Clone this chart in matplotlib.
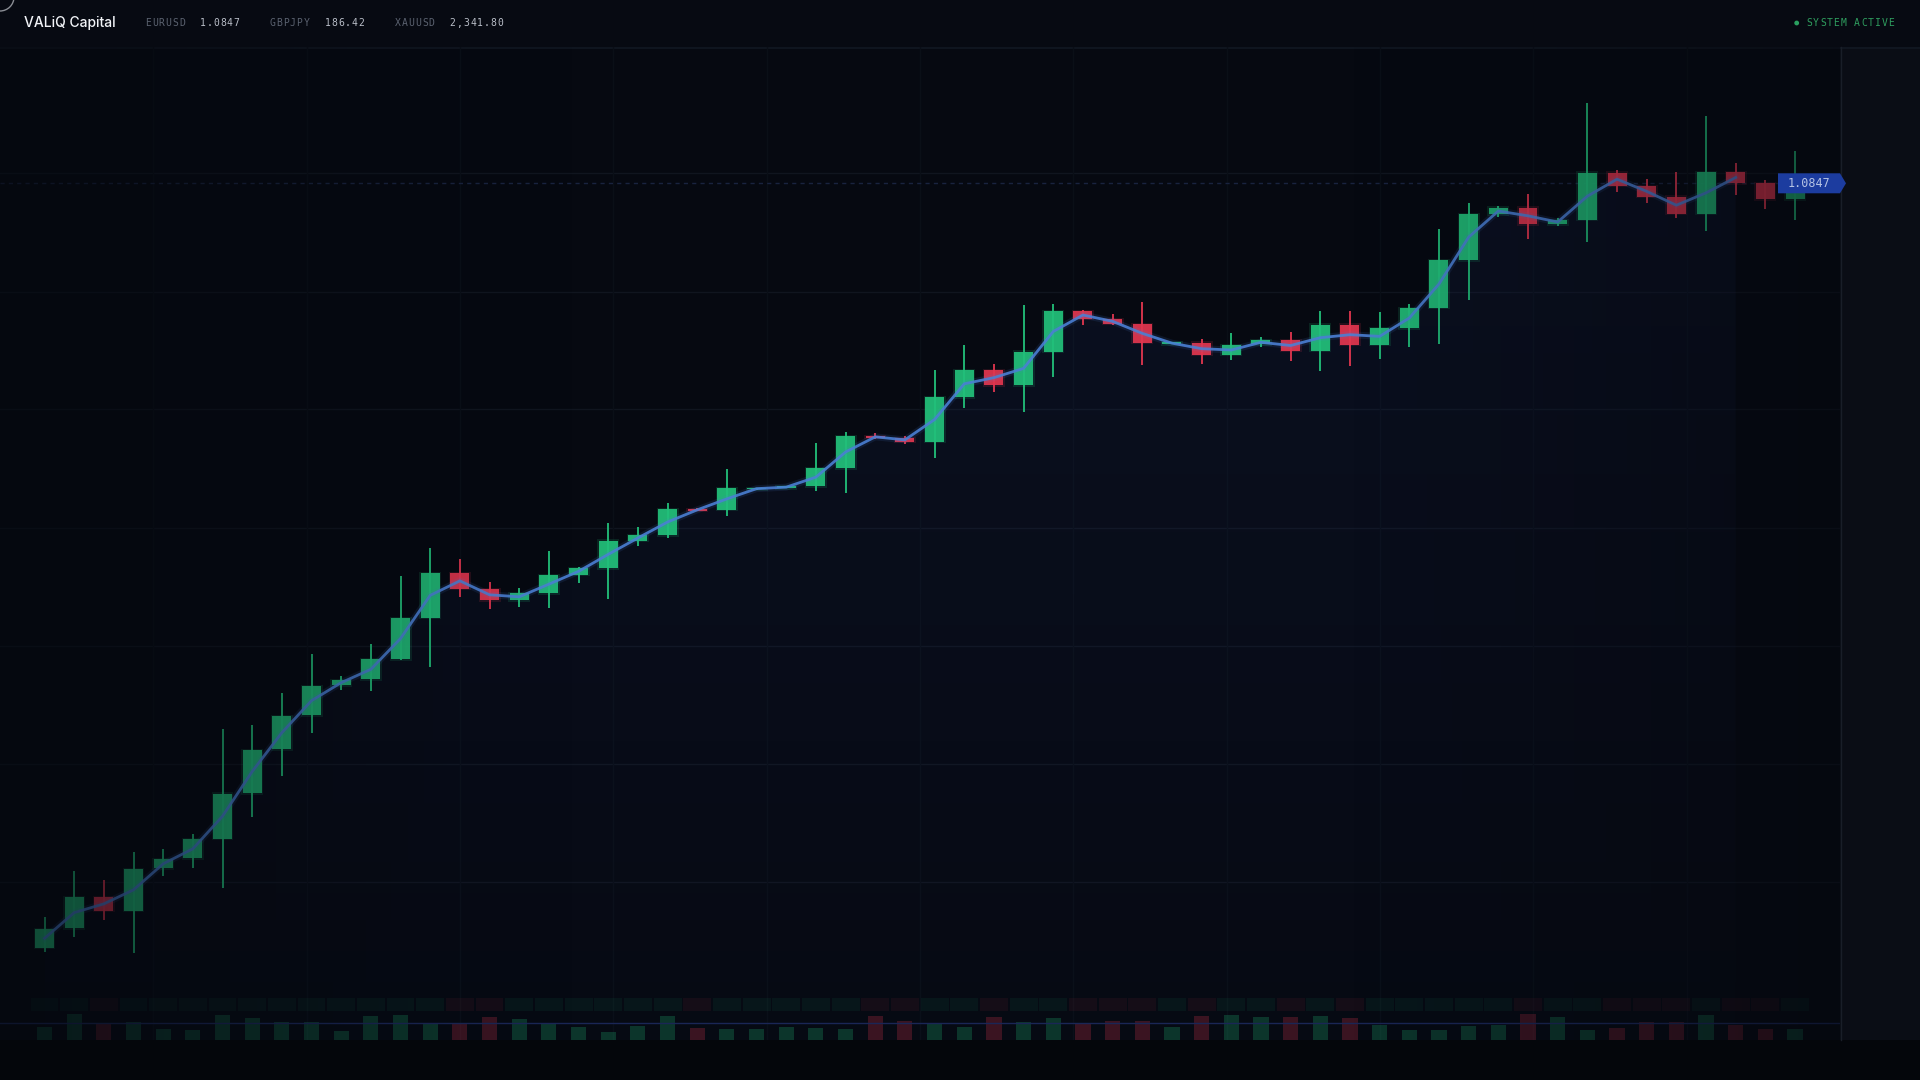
import numpy as np
import matplotlib.pyplot as plt
from matplotlib.patches import Rectangle, Polygon, Circle
from matplotlib.colors import to_rgb

# ---- data ----
opens = [1.00826, 1.0102, 1.01333, 1.01196, 1.0162, 1.0172, 1.01916, 1.02373, 1.0281, 1.0315,
         1.0345, 1.0351, 1.03713, 1.04126, 1.04573, 1.0441, 1.0430, 1.0437, 1.04556, 1.04623,
         1.04896, 1.04953, 1.05213, 1.05206, 1.0541, 1.05423, 1.05443, 1.05623, 1.05943, 1.05923,
         1.05886, 1.0633, 1.0660, 1.06453, 1.06786, 1.0719, 1.07113, 1.07063, 1.06863, 1.06876,
         1.06756, 1.0686, 1.0690, 1.06796, 1.07056, 1.06856, 1.07023, 1.07226, 1.07703, 1.0816,
         1.08226, 1.08063, 1.08106, 1.08576, 1.08443, 1.08336, 1.08166, 1.08583, 1.0847, 1.0831]
closes = [1.01013, 1.01333, 1.01196, 1.01613, 1.0171, 1.0191, 1.02366, 1.02803, 1.03143, 1.03443,
          1.03503, 1.0371, 1.04123, 1.04573, 1.04416, 1.0430, 1.0437, 1.04553, 1.04623, 1.04896,
          1.0495, 1.05213, 1.05196, 1.05423, 1.05423, 1.0544, 1.0562, 1.05943, 1.05926, 1.05886,
          1.0633, 1.0660, 1.06453, 1.06786, 1.0719, 1.07116, 1.07066, 1.06876, 1.0688, 1.06756,
          1.0685, 1.0690, 1.06796, 1.07056, 1.06856, 1.07023, 1.07223, 1.0770, 1.0816, 1.08226,
          1.08063, 1.08103, 1.08576, 1.08446, 1.08336, 1.08166, 1.08583, 1.08473, 1.08313, 1.0847]
highs = [1.0113, 1.01593, 1.01503, 1.0178, 1.01813, 1.01963, 1.0301, 1.03053, 1.0337, 1.03763,
         1.03543, 1.0386, 1.04543, 1.04823, 1.04713, 1.04483, 1.0442, 1.04793, 1.04636, 1.0507,
         1.05036, 1.0527, 1.0522, 1.0561, 1.05428, 1.05443, 1.0587, 1.05983, 1.0597, 1.05946,
         1.0660, 1.06853, 1.06663, 1.07253, 1.07266, 1.07203, 1.07163, 1.0728, 1.06883, 1.0691,
         1.06973, 1.0693, 1.0698, 1.07196, 1.07193, 1.0718, 1.0726, 1.08013, 1.0827, 1.08246,
         1.0836, 1.0812, 1.09276, 1.08603, 1.0851, 1.08586, 1.09143, 1.0867, 1.08503, 1.08793]
lows = [1.00786, 1.00936, 1.01103, 1.00776, 1.01546, 1.0162, 1.01426, 1.02136, 1.02543, 1.02973,
        1.03403, 1.0339, 1.03703, 1.03636, 1.04336, 1.0421, 1.04236, 1.0422, 1.04476, 1.0431,
        1.04843, 1.04926, 1.05191, 1.05146, 1.05405, 1.0542, 1.05393, 1.05376, 1.05916, 1.05866,
        1.05726, 1.06228, 1.06386, 1.0618, 1.0653, 1.07056, 1.07058, 1.06656, 1.0686, 1.0666,
        1.06706, 1.06836, 1.06693, 1.06596, 1.06646, 1.06713, 1.06836, 1.06863, 1.07303, 1.0813,
        1.07916, 1.08046, 1.07883, 1.0838, 1.0827, 1.08126, 1.0799, 1.08356, 1.08216, 1.08103]
volumes = [1300, 2570, 1600, 1770, 1130, 1000, 2500, 2230, 1770, 1830,
           900, 2430, 2470, 1700, 1730, 2300, 2130, 1700, 1300, 830,
           1370, 2400, 1200, 1100, 1070, 1330, 1200, 1100, 2400, 1900,
           1630, 1330, 2300, 1800, 2230, 1630, 1870, 1870, 1330, 2400,
           2500, 2330, 2270, 2400, 2200, 1530, 1000, 1000, 1400, 1530,
           2570, 2270, 1000, 1200, 1800, 1770, 2470, 1500, 1100, 1100]
grid_levels = [1.0857, 1.07388, 1.0621, 1.05026, 1.03843, 1.02663, 1.01483]
line_last = 57  # trend line stops two bars before the end

tickers = ["EURUSD", "GBPJPY", "XAUUSD"]
quotes = ["1.0847", "186.42", "2,341.80"]
ticker_x = [144.6, 268.6, 394]
quote_x = [199, 324, 449]

GREEN = "#22c07a"
RED = "#e2364f"
BLUE = "#4a7fd4"
BG = "#060911"
MONO = "DejaVu Sans Mono"

W, H = 1920, 1080
fig = plt.figure(figsize=(19.2, 10.8), dpi=100, facecolor=BG)


def frame(x0, y0, x1, y1, **kw):
    # axes placed by pixel box, origin top-left
    a = fig.add_axes([x0 / W, 1 - y1 / H, (x1 - x0) / W, (y1 - y0) / H], **kw)
    a.axis("off")
    return a


# background panels
bg = frame(0, 0, W, H, zorder=-5)
bg.set_xlim(0, W); bg.set_ylim(H, 0)
bg.add_patch(Rectangle((0, 0), W, 47, color="#070a12", lw=0))
bg.add_patch(Rectangle((0, 47), 1840, 993, color=BG, lw=0))
bg.add_patch(Rectangle((1840, 47), 80, 993, color="#0a0d15", lw=0))
bg.add_patch(Rectangle((0, 1040), W, 40, color="#04060b", lw=0))
bg.plot([0, W], [47.5, 47.5], color="#121823", lw=1.2)
bg.plot([1840.5, 1840.5], [47, 1040], color="#191e28", lw=1)

o = np.array(opens); c = np.array(closes)
hi = np.array(highs); lo = np.array(lows)
n = len(o)
x = np.arange(n)
up = c >= o
cols = np.where(up, GREEN, RED)

step, first_px = 29.67, 44.5
xlim = (-first_px / step, (1840 - first_px) / step)
last = c[-1]
label_y = 183.3
ppu = 10000  # pixels per price unit

ax = frame(0, 47, 1840, 1040, zorder=1)
ax.set_xlim(*xlim)
ylim = (last - (1040 - label_y) / ppu, last + (label_y - 47) / ppu)

# grid
for g in grid_levels:
    ax.axhline(g, color="#10151f", lw=1, zorder=0)
for k in range(1, 12):
    ax.axvline((1840 * k / 12 - first_px) / step, color="#0a0f17", lw=1, zorder=0)

# gradient area under the trend line
mid = (o + c) / 2
xs = x[:line_last + 1]; ys = mid[:line_last + 1]
verts = [(xs[0], ylim[0])] + list(zip(xs, ys)) + [(xs[-1], ylim[0])]
poly = Polygon(verts, closed=True, facecolor="none", edgecolor="none")
ax.add_patch(poly)
grad = np.zeros((256, 1, 4))
grad[..., :3] = to_rgb("#2a3f8a")
grad[:, 0, 3] = np.linspace(0.15, 0.02, 256)
im = ax.imshow(grad, extent=[xs[0], xs[-1], ylim[0], ylim[1]], aspect="auto",
               origin="upper", zorder=1)
im.set_clip_path(poly)

# current price dotted line
ax.axhline(last, xmax=1778 / 1840, color="#19233f", lw=1, ls=(0, (3, 3)), zorder=2)

# candles
ax.vlines(x, lo, hi, colors=cols, lw=1.3, zorder=3)
ax.bar(x, np.abs(c - o) + 3 / ppu, bottom=np.minimum(o, c) - 1.5 / ppu, width=0.74,
       color=cols, alpha=0.15, lw=0, zorder=3)
ax.bar(x, np.abs(c - o), bottom=np.minimum(o, c), width=0.64, color=cols, lw=0,
       alpha=0.92, zorder=4)

# trend line
ax.plot(xs, ys, color=BLUE, lw=5, alpha=0.12, zorder=5, solid_joinstyle="round")
ax.plot(xs, ys, color=BLUE, lw=2.0, alpha=0.9, zorder=5, solid_joinstyle="round")
ax.set_xlim(*xlim); ax.set_ylim(*ylim)

# volume strip
vax = frame(0, 990, 1840, 1040, zorder=1)
vax.set_xlim(*xlim); vax.set_ylim(0, 5000)
vax.bar(x, 1240, bottom=2930, width=0.94, color=cols, alpha=0.07, lw=0)
vax.bar(x, volumes, width=0.51, color=cols, alpha=0.24, lw=0)
vax.axhline(np.mean(volumes), color="#1a2656", lw=1)

# edge fade over chart area
fade = frame(0, 47, 1840, 1040, zorder=5)
px = np.arange(1840)
t = np.clip(px / 600, 0, 1)
a_left = 0.6 * (1 - (3 * t ** 2 - 2 * t ** 3))
a_right = np.clip((px - 1350) / 490, 0, 1) * 0.55
rgba = np.zeros((1, 1840, 4))
rgba[..., :3] = to_rgb("#05080f")
rgba[0, :, 3] = np.clip(a_left + a_right, 0, 1)
fade.imshow(rgba, extent=[0, 1, 0, 1], aspect="auto")
fade.set_xlim(0, 1); fade.set_ylim(0, 1)

# top layer: header, price tag
top = frame(0, 0, W, H, zorder=6)
top.set_xlim(0, W); top.set_ylim(H, 0)


def spaced(x0, y0, s, color, size=7, adv=6.85):
    # monospace text with wide tracking, one glyph per cell
    for i, ch in enumerate(s):
        top.text(x0 + (i + 0.5) * adv, y0, ch, color=color, fontsize=size,
                 family=MONO, va="center", ha="center")


top.add_patch(Circle((0, -3), 14, fill=False, ec="#8a8d94", lw=1))
top.text(24, 23, "VALiQ Capital", color="#f2f4f8", fontsize=10, family="Inter",
         fontweight="medium", va="center", ha="left")
for tk, q, tx, qx in zip(tickers, quotes, ticker_x, quote_x):
    spaced(tx, 23.5, tk, "#5b6270")
    spaced(qx, 23.5, q, "#b9bec8")
top.add_patch(Circle((1796.7, 23), 2.4, color="#2aa060", lw=0))
spaced(1805.7, 23.5, "SYSTEM ACTIVE", "#2f9e5f")

ty = label_y
tag = Polygon([(1778, ty - 10), (1840, ty - 10), (1846, ty), (1840, ty + 10), (1778, ty + 10)],
              closed=True, color="#1c3c9f", lw=0)
top.add_patch(tag)
top.text(1809, ty + 0.5, f"{last:.4f}", color="#b4c2e4", fontsize=8.5,
         family=MONO, va="center", ha="center")

fig.savefig("out.png", dpi=100, facecolor=BG)
